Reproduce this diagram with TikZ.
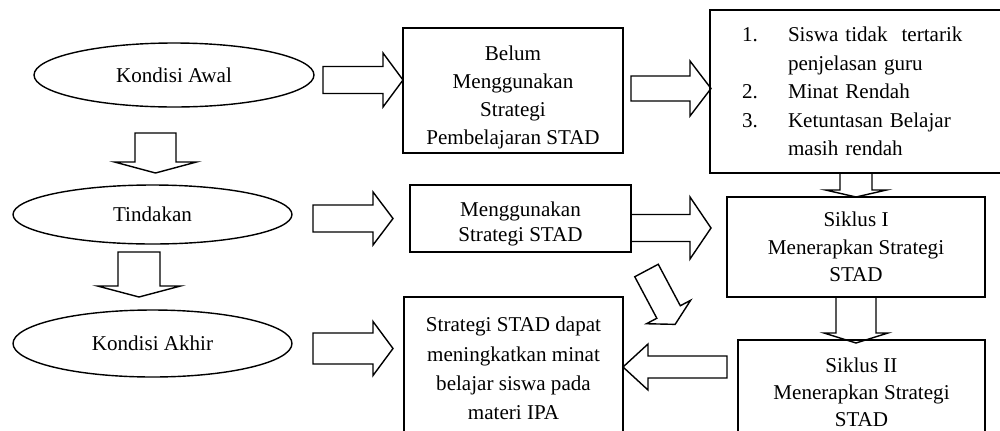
\documentclass[tikz,border=0pt]{standalone}
\usepackage{fontspec}
\setmainfont{Liberation Serif}
\usetikzlibrary{shapes.geometric}

\newcommand{\butir}[1]{\makebox[0.92cm][l]{#1}}

\tikzset{
  kotak/.style={draw, line width=0.8pt, align=center, inner sep=0pt, font=\fontsize{12pt}{16pt}\selectfont},
  elips/.style={ellipse, draw, line width=0.8pt, inner sep=0pt, font=\fontsize{12pt}{16pt}\selectfont},
  panahline/.style={draw, line width=0.8pt, line join=miter},
  pics/panah/.style n args={4}{code={
    \draw[panahline] (0,#3) -- (#1,#3) -- (#1,#4) -- (#2,0) -- (#1,-#4) -- (#1,-#3) -- (0,-#3) -- cycle;}}
}

\begin{document}
\begin{tikzpicture}[x=0.02cm, y=-0.02cm]
\useasboundingbox (0,0) rectangle (1000,430);
\clip (0,0) rectangle (1000,430);

% kolom kiri
\node[elips, minimum width=5.6cm, minimum height=1.28cm] (awal) at (174,75) {Kondisi Awal};
\node[elips, minimum width=5.58cm, minimum height=1.18cm] (tindakan) at (152.5,214.5) {Tindakan};
\node[elips, minimum width=5.58cm, minimum height=1.34cm] (akhir) at (152.5,343.5) {Kondisi Akhir};

% kotak tengah
\node[kotak, minimum width=4.4cm, minimum height=2.5cm] (belum) at (513,90.5) {\rule{0pt}{16.5pt}Belum\\Menggunakan\\Strategi\\Pembelajaran STAD};
\node[kotak, minimum width=4.42cm, minimum height=1.34cm, font=\fontsize{12pt}{14.5pt}\selectfont] (pakai) at (520.5,218.5) {\rule{0pt}{14.5pt}Menggunakan\\Strategi STAD};
\node[kotak, minimum width=4.38cm, minimum height=2.86cm, font=\fontsize{12pt}{16.6pt}\selectfont] (hasil) at (513.5,368.5) {Strategi STAD dapat\\meningkatkan minat\\belajar siswa pada\\materi IPA};

% kotak kanan
\node[kotak, align=left, text width=4.58cm, inner xsep=0.64cm, minimum height=3.26cm, font=\fontsize{12pt}{16.3pt}\selectfont] (masalah) at (856.5,91.5) {\butir{1.}Siswa tidak\ \ tertarik\\
\hspace*{0.92cm}penjelasan guru\\
\butir{2.}Minat Rendah\\
\butir{3.}Ketuntasan Belajar\\
\hspace*{0.92cm}masih rendah};
\node[kotak, minimum width=5.16cm, minimum height=2cm, font=\fontsize{12pt}{15.5pt}\selectfont] (siklus1) at (856,247) {Siklus I\\Menerapkan Strategi\\STAD};
\node[kotak, minimum width=4.94cm, minimum height=2.1cm, font=\fontsize{12pt}{15.5pt}\selectfont] (siklus2) at (861.5,392.5) {Siklus II\\Menerapkan Strategi\\STAD};

% panah blok
\pic at (323,80) {panah={60}{80}{13.5}{27}};
\pic[rotate=-90] at (155.5,133) {panah={29}{40}{20.5}{41}};
\pic at (313,218.5) {panah={60}{80}{13.5}{26.5}};
\pic[rotate=-90] at (139,252) {panah={34}{45}{21}{41.5}};
\pic at (313,348.5) {panah={60}{80}{15.5}{27}};
\pic at (631,88.5) {panah={59}{80}{12.5}{27.5}};
\pic at (631,228) {panah={59}{80}{13.5}{31}};
\pic[rotate=-90] at (856,173) {panah={17}{24}{16}{30.5}};
\pic[rotate=-90] at (856,297) {panah={36}{46}{20}{32}};
\pic[rotate=180] at (727,367) {panah={79}{104}{11}{23}};
\pic[rotate=-62] at (646.5,270.5) {panah={47}{61}{13.3}{25}};

\end{tikzpicture}
\end{document}
